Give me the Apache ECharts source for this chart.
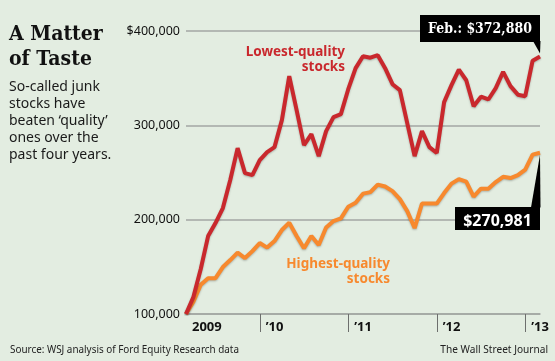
<!DOCTYPE html>
<html><head><meta charset="utf-8">
<script src="https://cdn.jsdelivr.net/npm/echarts@6/dist/echarts.min.js"></script>
<style>html,body{margin:0;padding:0;background:#e3ede1;}#c{width:555px;height:361px;}</style>
</head><body><div id="c"></div>
<script>
const months = ['2009-02','2009-03','2009-04','2009-05','2009-06','2009-07','2009-08','2009-09','2009-10','2009-11','2009-12',
'2010-01','2010-02','2010-03','2010-04','2010-05','2010-06','2010-07','2010-08','2010-09','2010-10','2010-11','2010-12',
'2011-01','2011-02','2011-03','2011-04','2011-05','2011-06','2011-07','2011-08','2011-09','2011-10','2011-11','2011-12',
'2012-01','2012-02','2012-03','2012-04','2012-05','2012-06','2012-07','2012-08','2012-09','2012-10','2012-11','2012-12',
'2013-01','2013-02'];
const lowest = [100000,118000,147700,182600,196400,212300,242000,275800,249300,247200,263100,271600,276900,305500,352100,316100,279000,290700,267400,293900,308700,311900,338300,360600,373300,371700,374400,360600,343600,337300,302300,267400,293900,276900,270600,324600,342600,359000,347800,320300,330400,327400,339400,356700,341500,332500,330900,368500,372880];
const highest = [100000,113000,131000,138000,138000,149800,157200,165100,159300,166700,175200,170400,177300,189000,196700,182600,169600,182600,173100,191600,198500,201400,213700,217900,227600,229200,237200,235100,230300,221800,209100,191100,217100,217100,217100,228200,238200,243000,240400,224500,232900,232900,239800,245400,244100,247200,253100,269000,270981];
const yearTickIdx = [10, 22, 34, 46];
const yearLabelIdx = [0, 10, 22, 34, 46];
const yearLabels = ['2009', '\u201910', '\u201911', '\u201912', '\u201913'];
const yTicks = [100000, 200000, 300000, 400000];

const fmt = v => v.toLocaleString('en-US');
const chart = echarts.init(document.getElementById('c'), null, {renderer: 'canvas'});
const GRID = '#a3a6a3';
chart.setOption({
  backgroundColor: '#e3ede1',
  animation: false,
  grid: {left: 186, right: 15, top: 31, bottom: 47},
  xAxis: {
    type: 'category', data: months, boundaryGap: false,
    axisLine: {show: true, lineStyle: {color: GRID, width: 1.5}},
    axisTick: {show: true, length: 18, lineStyle: {color: '#6d6f6d', width: 1},
      interval: (i) => yearTickIdx.includes(i)},
    axisLabel: {interval: (i) => yearLabelIdx.includes(i),
      formatter: (v, i) => yearLabels[yearLabelIdx.indexOf(i)] || '',
      align: 'left', padding: [0, 0, 0, 6], margin: 7,
      color: '#111', fontFamily: 'Noto Sans', fontSize: 13, fontWeight: 'bold'},
    splitLine: {show: false}
  },
  yAxis: {
    type: 'value', min: 100000, max: 400000, interval: 100000,
    axisLine: {show: false}, axisTick: {show: false},
    axisLabel: {margin: 6, color: '#111', fontFamily: 'Noto Sans', fontSize: 12.5,
      formatter: v => (v === 400000 ? '$' : '') + fmt(v)},
    splitLine: {lineStyle: {color: GRID, width: 1.5}}
  },
  series: [
    {type: 'line', name: 'Highest-quality stocks', data: highest, showSymbol: false, symbol: 'none',
      lineStyle: {color: '#f7892e', width: 4, shadowColor: 'rgba(0,0,0,0.25)', shadowBlur: 2, shadowOffsetY: 1}, z: 3},
    {type: 'line', name: 'Lowest-quality stocks', data: lowest, showSymbol: false, symbol: 'none',
      lineStyle: {color: '#c9282d', width: 4, shadowColor: 'rgba(0,0,0,0.25)', shadowBlur: 2, shadowOffsetY: 1}, z: 4}
  ]
});

const last = months.length - 1;
const pR = chart.convertToPixel({gridIndex: 0}, [last, lowest[last]]);
const pH = chart.convertToPixel({gridIndex: 0}, [last, highest[last]]);
chart.setOption({graphic: [
  {type: 'text', left: 9, top: 22, style: {text: 'A Matter\nof Taste', font: 'bold 21px "DejaVu Serif Condensed", "Liberation Serif", serif', fill: '#111', lineHeight: 25}},
  {type: 'text', left: 9, top: 79, style: {text: 'So-called junk\nstocks have\nbeaten \u2018quality\u2019\nones over the\npast four years.', font: '14px "Noto Sans"', fill: '#1a1a1a', lineHeight: 17}},
  {type: 'text', x: 345, y: 52, style: {text: 'Lowest-quality', font: 'bold 13.5px "Noto Sans"', fill: '#c9282d', align: 'right', verticalAlign: 'middle'}},
  {type: 'text', x: 345, y: 67, style: {text: 'stocks', font: 'bold 13.5px "Noto Sans"', fill: '#c9282d', align: 'right', verticalAlign: 'middle'}},
  {type: 'text', x: 390, y: 264, style: {text: 'Highest-quality', font: 'bold 13.5px "Noto Sans"', fill: '#f7892e', align: 'right', verticalAlign: 'middle'}},
  {type: 'text', x: 390, y: 279, style: {text: 'stocks', font: 'bold 13.5px "Noto Sans"', fill: '#f7892e', align: 'right', verticalAlign: 'middle'}},
  {type: 'rect', shape: {x: 420, y: 15, width: pR[0] - 420, height: 27}, style: {fill: '#000'}, z: 10},
  {type: 'polygon', shape: {points: [[pR[0] - 7, 41], [pR[0] + 0.5, 41], [pR[0], pR[1] - 3]]}, style: {fill: '#000'}, z: 10},
  {type: 'text', x: (420 + pR[0]) / 2, y: 29, scaleX: 0.93, z: 11, style: {text: 'Feb.: $' + fmt(lowest[last]), font: 'bold 15px "DejaVu Serif Condensed", "Liberation Serif", serif', fill: '#fff', align: 'center', verticalAlign: 'middle'}},
  {type: 'rect', shape: {x: 455, y: 207, width: pH[0] - 455, height: 23}, style: {fill: '#000'}, z: 10},
  {type: 'polygon', shape: {points: [[pH[0] - 9, 207.5], [pH[0] + 0.5, 207.5], [pH[0], pH[1] + 2]]}, style: {fill: '#000'}, z: 10},
  {type: 'text', x: (455 + pH[0]) / 2, y: 221, z: 11, style: {text: '$' + fmt(highest[last]), font: 'bold 16px "Noto Sans"', fill: '#fff', align: 'center', verticalAlign: 'middle'}},
  {type: 'text', x: 10, y: 350, scaleX: 0.86, style: {text: 'Source: WSJ analysis of Ford Equity Research data', font: '11.5px "Noto Sans"', fill: '#222', align: 'left', verticalAlign: 'middle'}},
  {type: 'text', x: 548, y: 350, scaleX: 0.88, style: {text: 'The Wall Street Journal', font: '11.5px "Noto Sans"', fill: '#222', align: 'right', verticalAlign: 'middle'}}
]});
</script></body></html>
